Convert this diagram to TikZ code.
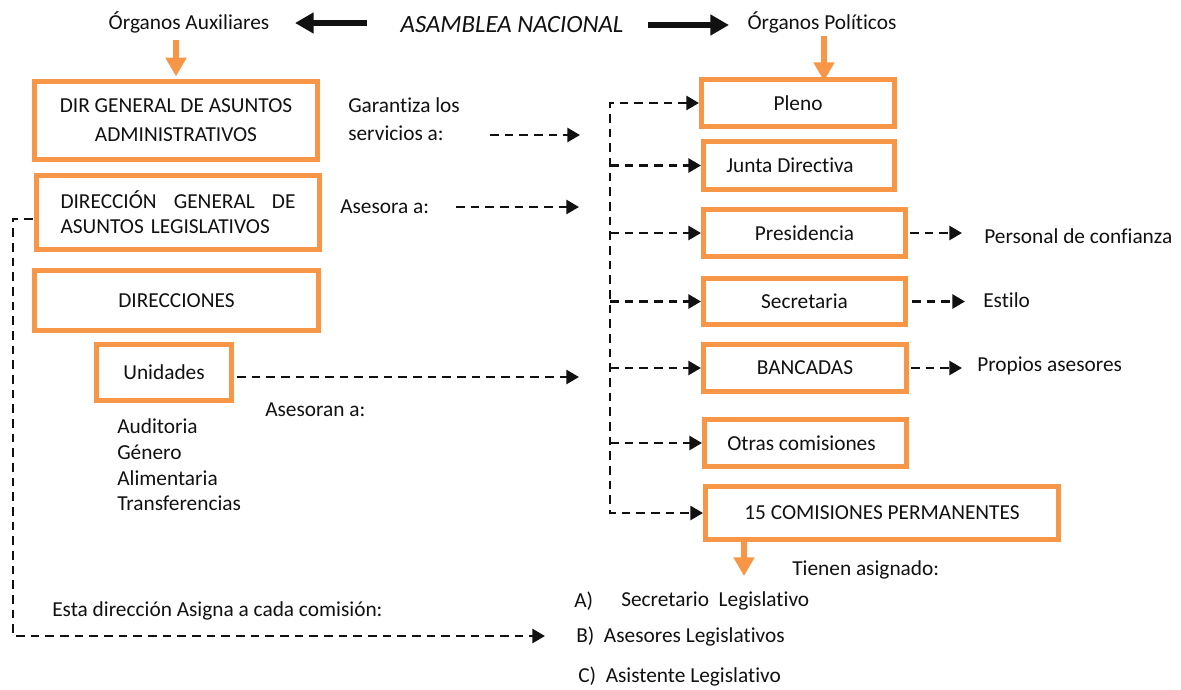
\documentclass[tikz,border=0pt]{standalone}
\usepackage{fontspec}
\setmainfont{Carlito}[Ligatures=NoCommon]
\usetikzlibrary{arrows.meta}
\definecolor{borange}{HTML}{F79646}
\definecolor{ink}{HTML}{111111}
\begin{document}
\begin{tikzpicture}[x=0.75pt,y=-0.75pt,
  every node/.style={font=\fontsize{16}{19}\selectfont, text=ink, inner sep=0pt},
  obox/.style={draw=borange, line width=3.75pt, fill=white, align=center},
  tip/.style={Triangle[length=9.5pt,width=10.5pt]},
  dl/.style={draw=ink, line width=2.1pt, dash pattern=on 6.5pt off 4.5pt, -{Triangle[length=9.5pt,width=10.5pt]}},
  barrow/.style={draw=ink, line width=5pt, -{Triangle[length=14pt,width=15pt]}},
  oarrow/.style={draw=borange, line width=4.5pt, -{Triangle[length=14pt,width=15pt]}},
  lbl/.style={anchor=west, align=left}
]
\useasboundingbox (0,0) rectangle (1181,689);

% header
\node (aux) at (189,22) {Órganos Auxiliares};
\node[font=\fontsize{18.6}{21}\selectfont\itshape] (asam) at (512,25) {ASAMBLEA NACIONAL};
\node (pol) at (822,22) {Órganos Políticos};
\coordinate (ba1) at (367,23);
\coordinate (ba2) at (295,23);
\coordinate (bb1) at (648,25);
\coordinate (bb2) at (729,25);
\draw[barrow] (ba1) -- (ba2);
\draw[barrow] (bb1) -- (bb2);

% left boxes
\node[obox, minimum width=212.25pt, minimum height=58.5pt, font=\fontsize{16}{21.75}\selectfont] (b1) at (176,120.5) {DIR GENERAL DE ASUNTOS\\ADMINISTRATIVOS};
\node[obox, minimum width=212.25pt, minimum height=55.5pt, text width=176.25pt, align=left, font=\fontsize{16}{18.75}\selectfont] (b2) at (178,212.5) {DIRECCIÓN\hfill GENERAL\hfill DE\\ASUNTOS LEGISLATIVOS};
\node[obox, minimum width=213pt, minimum height=45pt] (b3) at (176.5,300.5) {DIRECCIONES};
\node[obox, minimum width=101.25pt, minimum height=42pt] (unid) at (164,372.5) {Unidades};
\node[lbl, font=\fontsize{16}{19.3}\selectfont] (lst) at (117,465) {Auditoria\\Género\\Alimentaria\\Transferencias};

% orange arrows
\coordinate (oa1) at (176,40);
\draw[oarrow] (oa1) -- ([yshift=2pt]oa1 |- b1.north);

% right boxes
\node[obox, minimum width=144.75pt, minimum height=35.25pt] (pleno) at (798,103) {Pleno};
\node[obox, minimum width=143.25pt, minimum height=36pt] (junta) at (799,165.5) {Junta Directiva\hspace{13.5pt}};
\node[obox, minimum width=151.5pt, minimum height=35.25pt] (pres) at (804.5,233) {Presidencia};
\node[obox, minimum width=151.5pt, minimum height=34.5pt] (secr) at (804.5,301.5) {Secretaria};
\node[obox, minimum width=152.25pt, minimum height=35.25pt] (banc) at (805,368) {BANCADAS};
\node[obox, minimum width=151.5pt, minimum height=35.25pt] (otras) at (805.5,443) {Otras comisiones\hspace{6pt}};
\node[obox, minimum width=264.75pt, minimum height=39.75pt] (c15) at (882,513) {15 COMISIONES PERMANENTES};

\coordinate (oa2) at (824,36);
\draw[oarrow] (oa2) -- ([yshift=-3pt]oa2 |- pleno.north);
\draw[oarrow] ([xshift=30.75pt]c15.south west) -- ++(0,34);

% spine
\coordinate (spine) at (610,300);
\draw[dl, {Triangle[length=9.5pt,width=10.5pt]}-{Triangle[length=9.5pt,width=10.5pt]}] (pleno.west) -| (spine) |- (c15.west);
\draw[dl] (spine |- junta.west) -- (junta.west);
\draw[dl] (spine |- pres.west) -- (pres.west);
\draw[dl] (spine |- secr.west) -- (secr.west);
\draw[dl] (spine |- banc.west) -- (banc.west);
\draw[dl] (spine |- otras.west) -- (otras.west);

% right labels
\node[lbl] (pers) at (984,236) {Personal de confianza};
\node[lbl] (estilo) at (983,300) {Estilo};
\node[lbl] (prop) at (977,366) {Propios asesores};
\draw[dl] ([xshift=1.5pt]pres.east) -- ([xshift=-16.5pt]pres.east -| pers.west);
\draw[dl] ([xshift=3pt]secr.east) -- ([xshift=-13.5pt]secr.east -| estilo.west);
\draw[dl] ([xshift=1.5pt]banc.east) -- ([xshift=-11.25pt]banc.east -| prop.west);

% middle labels and arrows
\node[lbl, font=\fontsize{16}{21}\selectfont] (gar) at (348,119) {Garantiza los\\servicios a:};
\node[lbl] (ases) at (340,207) {Asesora a:};
\node[lbl] (asesn) at (265,410) {Asesoran a:};
\coordinate (g1) at (490,135);
\coordinate (g2) at (580,135);
\draw[dl] (g1) -- (g2);
\coordinate (a1) at (456,207);
\coordinate (a2) at (579,207);
\draw[dl] (a1) -- (a2);
\coordinate (u1) at (237,377);
\coordinate (u2) at (579,377);
\draw[dl] (u1) -- (u2);

% bottom
\node[lbl] (esta) at (52,611) {Esta dirección Asigna a cada comisión:};
\coordinate (l1) at (33,219);
\coordinate (l2) at (13,636);
\coordinate (l3) at (545,636);
\draw[dl] (l1) -| (l2) -- (l3);
\node[lbl] (tien) at (792,570) {Tienen asignado:};
\node[lbl] (ia) at (574,601) {A)};
\node[lbl] (iat) at (621,601) {Secretario\ \ Legislativo};
\node[lbl] (ib) at (576,637) {B)\ \ Asesores Legislativos};
\node[lbl] (ic) at (578,677) {C)\ \ Asistente Legislativo};
\end{tikzpicture}
\end{document}
